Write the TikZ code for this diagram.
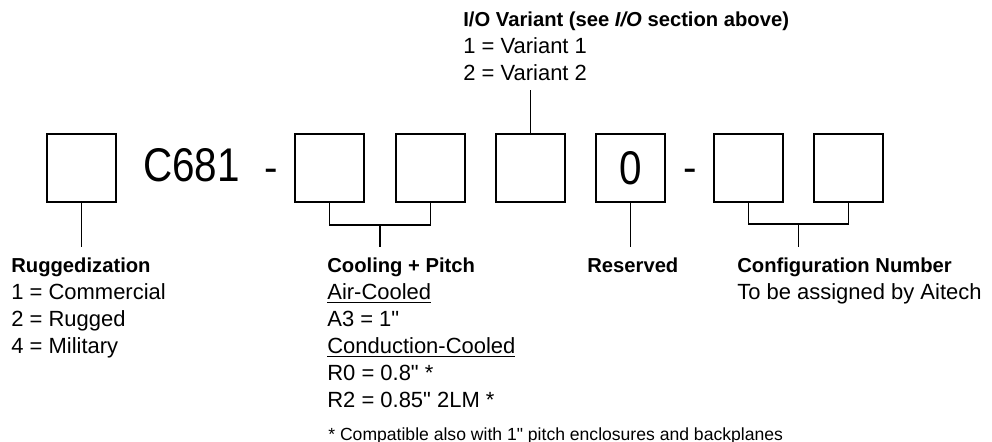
\documentclass[tikz,border=0pt]{standalone}
\usepackage{fontspec}
\setmainfont{Liberation Sans}
\usepackage{tikz}
\usetikzlibrary{positioning,calc}
\definecolor{ink}{HTML}{000000}
\tikzset{
  digit/.style={draw=ink,line width=1.1pt,minimum width=1.38cm,minimum height=1.36cm,inner sep=0pt},
  bigtext/.style={font=\fontsize{23}{26}\selectfont,text=ink,inner sep=0pt},
  legend/.style={anchor=north west,align=left,inner sep=0pt,text=ink,font=\fontsize{12.5}{15.4}\selectfont},
  tap/.style={draw=ink,line width=1.1pt},
}
\newcommand{\hd}[1]{{\bfseries\fontsize{11.5}{15.4}\selectfont #1}}
\newcommand{\inch}{\textquotedbl}
\newcommand{\tall}[1]{\scalebox{1}[1.17]{#1}}

\begin{document}
\begin{tikzpicture}[x=1cm,y=1cm]
  \useasboundingbox (0,0) rectangle (19.84,-8.84);

  % part-number boxes
  \node[digit] (rug) at (1.63,-3.36) {};
  \node[bigtext,anchor=base] (base) at (3.83,-3.64) {\tall{C681}};
  \node[bigtext,anchor=base] (dashA) at (5.42,-3.64) {-};
  \node[digit] (coolA) at (6.59,-3.36) {};
  \node[digit] (coolB) at (8.61,-3.36) {};
  \node[digit] (io) at (10.61,-3.36) {};
  \node[digit,bigtext] (res) at (12.61,-3.36) {\tall{0}};
  \node[bigtext,anchor=base] (dashB) at (13.8,-3.64) {-};
  \node[digit] (cfgA) at (14.97,-3.36) {};
  \node[digit] (cfgB) at (16.97,-3.36) {};

  % legends
  \node[legend] (rugtxt) at (0.22,-5.145)
    {\hd{Ruggedization}\\1 = Commercial\\2 = Rugged\\4 = Military};
  \node[legend] (cooltxt) at (6.54,-5.145)
    {\hd{Cooling + Pitch}\\\underline{Air-Cooled}\\A3 = 1\inch\\\underline{Conduction-Cooled}\\R0 = 0.8\inch{} *\\R2 = 0.85\inch{} 2LM *};
  \node[legend,anchor=base west] (restxt) at (11.74,-5.44) {\hd{Reserved}};
  \node[legend] (cfgtxt) at (14.74,-5.145)
    {\hd{Configuration Number}\\To be assigned by Aitech};
  \node[legend] (iotxt) at (9.26,-0.23)
    {\hd{I/O Variant (see \textit{I/O} section above)}\\1 = Variant 1\\2 = Variant 2};
  \node[legend,anchor=base west,font=\fontsize{10}{12}\selectfont] (note) at (6.56,-8.8)
    {* Compatible also with 1\inch{} pitch enclosures and backplanes};

  % tap points
  \coordinate (rugend) at (1.63,-4.94);
  \coordinate (coolmid) at (7.6,-4.5);
  \coordinate (coolend) at (7.6,-4.94);
  \coordinate (resend) at (12.61,-4.94);
  \coordinate (cfgmid) at (15.97,-4.48);
  \coordinate (cfgend) at (15.97,-4.94);
  \coordinate (ioend) at (10.61,-1.8);

  \draw[tap] (rug.south) -- (rugend);
  \draw[tap] (coolA.south) |- (coolmid) -| (coolB.south);
  \draw[tap] (coolmid) -- (coolend);
  \draw[tap] (res.south) -- (resend);
  \draw[tap] (cfgA.south) |- (cfgmid) -| (cfgB.south);
  \draw[tap] (cfgmid) -- (cfgend);
  \draw[tap] (io.north) -- (ioend);
\end{tikzpicture}
\end{document}
